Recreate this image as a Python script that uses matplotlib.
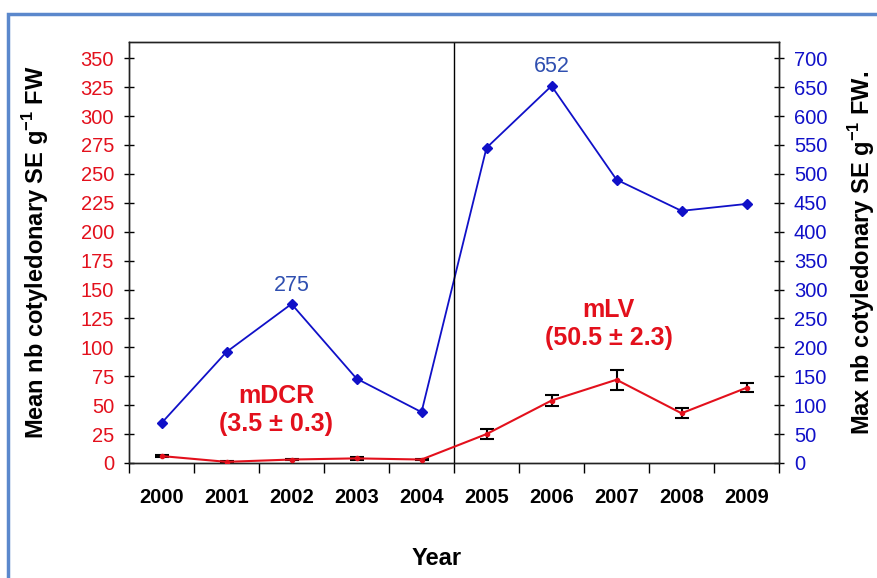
import numpy as np
import matplotlib
matplotlib.use("Agg")
import matplotlib.pyplot as plt
from matplotlib.patches import Rectangle

plt.rcParams["font.family"] = ["Liberation Sans", "DejaVu Sans"]
plt.rcParams["mathtext.fontset"] = "custom"
plt.rcParams["mathtext.rm"] = "Liberation Sans"
plt.rcParams["mathtext.bf"] = "Liberation Sans:bold"

# ---------------------------
# Data
# ---------------------------
years = ["2000", "2001", "2002", "2003", "2004", "2005", "2006", "2007", "2008", "2009"]
max_se = [69, 192, 275, 146, 88, 545, 652, 490, 436, 448]          # right axis (blue)
mean_se = [6, 1, 3, 4, 3, 25, 54, 72, 43, 65]                      # left axis (red)
mean_err = [1.2, 0.5, 0.8, 1.2, 0.8, 4, 5, 8.5, 4.5, 4]

red = "#e3101c"
blue = "#1010c8"

fig = plt.figure(figsize=(8.77, 5.78), dpi=100)
fig.patches.append(Rectangle((8 / 877, -0.1), 1.1, 1 - 14 / 578 + 0.1,
                             transform=fig.transFigure, fill=False,
                             edgecolor="#5b88cc", linewidth=2.5))

ax = fig.add_axes([129 / 877, 115 / 578, 650 / 877, 421 / 578])
ax2 = ax.twinx()

x = np.arange(len(years)) + 0.5

# blue line: max on the right axis
ax2.plot(x, max_se, color=blue, marker="D", markersize=5, linewidth=1.3, zorder=3)
ax2.set_ylim(0, 728)
ax2.set_yticks(np.arange(0, 701, 50))
ax2.tick_params(axis="y", direction="inout", length=7.5, width=1, labelsize=14.5,
                labelcolor=blue, pad=7)
ax2.set_ylabel(r"Max nb cotyledonary SE g$^{\mathbf{-1}}$ FW.",
               fontsize=17, fontweight="bold")
ax2.yaxis.set_label_coords(1.103, 0.498)

# red line: mean with error bars on the left axis
ax.errorbar(x, mean_se, yerr=mean_err, color=red, ecolor="black", elinewidth=1.5,
            capsize=5, capthick=1.5, linewidth=1.5, marker="o", markersize=3, zorder=4)
ax.set_ylim(0, 364)
ax.set_yticks(np.arange(0, 351, 25))
ax.tick_params(axis="y", direction="inout", length=7.5, width=1, labelsize=14.5,
               labelcolor=red, pad=7)
ax.set_ylabel(r"Mean nb cotyledonary SE g$^{\mathbf{-1}}$ FW",
              fontsize=17, fontweight="bold")
ax.yaxis.set_label_coords(-0.12, 0.5)

ax.set_xlim(0, len(years))
ax.set_xticks(np.arange(len(years) + 1))
ax.set_xticklabels([])
ax.set_xticks(x, minor=True)
ax.set_xticklabels(years, minor=True, fontsize=14.5, fontweight="bold")
ax.tick_params(axis="x", which="major", direction="out", length=7.5, width=1)
ax.tick_params(axis="x", which="minor", length=0, pad=18)
ax.set_xlabel("Year", fontsize=17, fontweight="bold")
ax.xaxis.set_label_coords(0.474, -0.2)

ax.set_zorder(ax2.get_zorder() + 1)
ax.patch.set_visible(False)

# separator between the two periods
ax.axvline(5, color="black", linewidth=1)

for a in (ax, ax2):
    for s in a.spines.values():
        s.set_linewidth(1)
        s.set_color("#222222")

# annotations
ax2.text(x[2], max_se[2] + 14, "275", color="#2f4fb0", fontsize=15.5,
         ha="center", va="bottom")
ax2.text(x[6], max_se[6] + 16, "652", color="#2f4fb0", fontsize=15.5,
         ha="center", va="bottom")
ax.text(2.26, 46, "mDCR\n(3.5 \u00b1 0.3)", color=red, fontsize=18,
        fontweight="bold", ha="center", va="center", linespacing=1.2)
ax.text(7.38, 120, "mLV\n(50.5 \u00b1 2.3)", color=red, fontsize=18,
        fontweight="bold", ha="center", va="center", linespacing=1.2)

plt.savefig("out.png", dpi=100)
